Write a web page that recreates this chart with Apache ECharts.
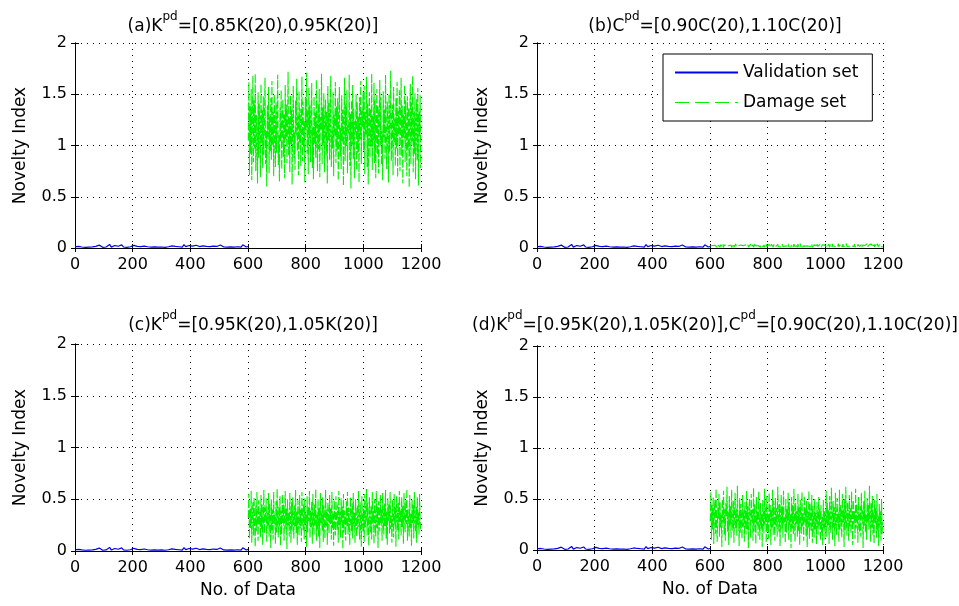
<!DOCTYPE html>
<html><head><meta charset="utf-8">
<script src="https://cdn.jsdelivr.net/npm/echarts@6/dist/echarts.min.js"></script>
<style>html,body{margin:0;padding:0;background:#fff}#c{width:959px;height:606px}</style>
</head><body><div id="c"></div>
<script>
// ---- data ----
const titles = [
  ['(a)K', 'pd', '=[0.85K(20),0.95K(20)]'],
  ['(b)C', 'pd', '=[0.90C(20),1.10C(20)]'],
  ['(c)K', 'pd', '=[0.95K(20),1.05K(20)]'],
  ['(d)K', 'pd', '=[0.95K(20),1.05K(20)],C', 'pd', '=[0.90C(20),1.10C(20)]']
];
const seriesNames = ['Validation set', 'Damage set'];
const xTicks = [0, 200, 400, 600, 800, 1000, 1200];
const yTicks = [0, 0.5, 1, 1.5, 2];
const validationStart = 0, validationStep = 6;
const damageStart = 601, damageStep = 2;

const validation = [
0.012,0.008,0.015,0.006,0.010,0.018,0.007,0.013,0.009,0.022,0.011,0.006,0.016,0.009,0.028,0.012,0.007,0.019,0.010,0.014,
0.035,0.009,0.013,0.024,0.008,0.017,0.011,0.030,0.010,0.015,0.007,0.021,0.012,0.009,0.026,0.011,0.016,0.008,0.013,0.010,
0.019,0.007,0.012,0.015,0.009,0.022,0.011,0.014,0.008,0.018,0.010,0.013,0.007,0.016,0.012,0.009,0.020,0.011,0.015,0.008,
0.012,0.017,0.009,0.033,0.013,0.010,0.024,0.012,0.018,0.009,0.027,0.011,0.014,0.008,0.021,0.012,0.016,0.010,0.013,0.009,
0.019,0.011,0.015,0.008,0.029,0.012,0.010,0.017,0.009,0.025,0.011,0.014,0.008,0.020,0.012,0.016,0.009,0.031,0.013,0.010,0.015
];
const damageA = [
1.05,1.62,0.71,1.38,0.92,1.55,0.66,1.21,1.68,0.84,1.44,0.97,1.70,0.75,1.30,1.12,0.63,1.52,0.88,1.41,
1.19,0.69,1.60,1.02,1.35,0.78,1.48,0.91,1.25,1.66,0.82,1.14,0.60,1.39,1.08,1.57,0.73,1.28,0.95,1.46,
0.86,1.63,1.00,1.33,0.70,1.50,1.17,0.79,1.42,0.93,1.26,1.69,0.81,1.10,0.65,1.37,1.04,1.54,0.77,1.22,
1.45,0.89,1.31,0.68,1.59,1.06,1.40,0.83,1.18,1.72,0.90,1.27,0.74,1.49,1.01,1.35,0.62,1.23,1.58,0.87,
1.13,0.76,1.44,1.09,1.65,0.94,1.29,0.71,1.53,1.03,1.36,0.80,1.20,1.67,0.85,1.43,0.98,1.24,0.64,1.47,
1.15,1.71,0.92,1.34,0.72,1.56,1.07,1.39,0.84,1.26,1.61,0.78,1.19,0.67,1.48,1.02,1.32,0.88,1.64,1.11,
0.75,1.41,0.96,1.55,0.69,1.28,1.16,1.70,0.82,1.37,1.00,1.51,0.74,1.21,1.45,0.91,1.33,0.63,1.58,1.05,
1.42,0.86,1.25,1.68,0.79,1.14,0.97,1.52,0.70,1.30,1.09,1.62,0.83,1.38,0.95,1.46,0.66,1.23,1.57,0.89,
1.17,0.77,1.49,1.04,1.35,0.61,1.27,1.66,0.85,1.40,0.99,1.54,0.73,1.20,1.12,1.69,0.80,1.31,0.58,1.44,
1.01,1.59,0.87,1.36,0.68,1.24,1.13,1.50,0.76,1.42,0.93,1.28,0.64,1.47,1.06,1.63,0.82,1.34,1.18,1.52,
0.95,1.58,0.72,1.33,1.10,1.67,0.79,1.41,0.62,1.24,1.52,0.88,1.36,0.99,1.70,0.76,1.29,1.05,1.61,0.83,
1.45,0.68,1.18,1.55,0.91,1.38,0.73,1.27,1.64,1.00,1.47,0.81,1.14,0.66,1.53,1.08,1.35,0.87,1.69,1.02,
0.77,1.43,1.21,0.64,1.50,0.94,1.31,1.73,0.85,1.19,1.40,0.71,1.57,1.03,1.26,0.80,1.46,0.97,1.62,0.69,
1.34,1.11,1.54,0.75,1.22,1.66,0.90,1.39,0.63,1.30,1.07,1.59,0.84,1.44,1.16,0.70,1.48,0.96,1.37,0.59,
1.25,1.60,0.82,1.42,1.04,1.68,0.74,1.32,0.92,1.51,0.67,1.20,1.45,0.86,1.56,0.61,1.33,1.09,1.49,0.78
];
const damageB = [
0.020,0.008,0.031,0.012,0.025,0.006,0.038,0.015,0.027,0.010,0.034,0.018,0.007,0.029,0.013,0.041,0.021,0.009,0.032,0.016,
0.024,0.011,0.036,0.007,0.028,0.019,0.043,0.012,0.026,0.008,0.033,0.017,0.022,0.010,0.039,0.014,0.030,0.006,0.025,0.018,
0.035,0.009,0.027,0.013,0.040,0.020,0.011,0.031,0.016,0.024,0.007,0.037,0.015,0.029,0.010,0.034,0.019,0.023,0.008,0.042,
0.014,0.030,0.012,0.026,0.018,0.036,0.009,0.028,0.021,0.013,0.039,0.011,0.025,0.017,0.032,0.008,0.027,0.015,0.044,0.020,
0.010,0.033,0.016,0.024,0.012,0.038,0.019,0.007,0.029,0.014,0.035,0.022,0.011,0.031,0.009,0.026,0.017,0.040,0.013,0.028,
0.021,0.008,0.034,0.015,0.027,0.011,0.037,0.018,0.024,0.010,0.032,0.016,0.043,0.012,0.029,0.020,0.009,0.035,0.014,0.025,
0.019,0.033,0.011,0.028,0.016,0.039,0.013,0.023,0.008,0.030,0.018,0.036,0.010,0.026,0.021,0.041,0.012,0.031,0.015,0.024,
0.009,0.034,0.017,0.027,0.013,0.038,0.020,0.011,0.032,0.016,0.025,0.008,0.037,0.014,0.029,0.019,0.042,0.012,0.026,0.018,
0.030,0.010,0.035,0.015,0.023,0.007,0.033,0.021,0.028,0.013,0.040,0.017,0.024,0.011,0.031,0.016,0.036,0.009,0.027,0.020,
0.014,0.032,0.018,0.025,0.010,0.038,0.015,0.029,0.022,0.012,0.034,0.017,0.026,0.008,0.031,0.019,0.039,0.013,0.028,0.021,
0.017,0.031,0.010,0.026,0.014,0.037,0.020,0.008,0.033,0.016,0.028,0.012,0.040,0.019,0.024,0.009,0.035,0.015,0.030,0.011,
0.027,0.018,0.042,0.013,0.029,0.007,0.034,0.021,0.025,0.010,0.038,0.016,0.031,0.012,0.026,0.019,0.044,0.014,0.028,0.009,
0.033,0.017,0.023,0.011,0.036,0.020,0.027,0.008,0.032,0.015,0.039,0.013,0.025,0.018,0.030,0.010,0.035,0.016,0.041,0.012,
0.026,0.021,0.034,0.009,0.029,0.014,0.037,0.019,0.024,0.011,0.031,0.017,0.043,0.013,0.027,0.008,0.033,0.020,0.028,0.015,
0.038,0.010,0.025,0.018,0.032,0.012,0.036,0.016,0.029,0.009,0.040,0.014,0.026,0.019,0.034,0.011,0.030,0.017,0.023,0.013
];
const damageC = [
0.32,0.55,0.12,0.41,0.22,0.58,0.08,0.36,0.47,0.15,0.52,0.27,0.04,0.44,0.19,0.57,0.30,0.10,0.49,0.25,
0.38,0.13,0.54,0.21,0.45,0.06,0.33,0.59,0.17,0.42,0.28,0.51,0.09,0.37,0.24,0.56,0.14,0.46,0.31,0.03,
0.50,0.20,0.40,0.11,0.57,0.26,0.35,0.07,0.48,0.18,0.60,0.29,0.13,0.43,0.23,0.53,0.05,0.39,0.16,0.55,
0.27,0.45,0.10,0.34,0.58,0.21,0.41,0.02,0.50,0.25,0.37,0.14,0.56,0.30,0.08,0.47,0.19,0.52,0.32,0.12,
0.44,0.24,0.59,0.17,0.38,0.06,0.49,0.28,0.15,0.54,0.22,0.40,0.09,0.57,0.33,0.20,0.46,0.11,0.51,0.26,
0.36,0.04,0.53,0.18,0.43,0.29,0.58,0.13,0.39,0.23,0.48,0.07,0.55,0.31,0.16,0.45,0.25,0.60,0.10,0.35,
0.21,0.50,0.14,0.42,0.03,0.56,0.27,0.37,0.19,0.52,0.09,0.44,0.30,0.12,0.59,0.24,0.40,0.06,0.47,0.34,
0.17,0.54,0.26,0.41,0.11,0.57,0.22,0.36,0.05,0.49,0.29,0.15,0.53,0.32,0.20,0.45,0.08,0.58,0.25,0.38,
0.13,0.51,0.28,0.43,0.02,0.55,0.18,0.39,0.31,0.10,0.48,0.23,0.57,0.16,0.42,0.27,0.06,0.52,0.34,0.19,
0.46,0.12,0.56,0.24,0.37,0.08,0.50,0.29,0.14,0.44,0.21,0.58,0.33,0.11,0.47,0.26,0.04,0.53,0.30,0.18,
0.41,0.09,0.55,0.23,0.36,0.60,0.15,0.47,0.28,0.05,0.52,0.33,0.18,0.44,0.11,0.57,0.26,0.39,0.07,0.50,
0.31,0.14,0.58,0.22,0.43,0.03,0.48,0.35,0.19,0.54,0.27,0.40,0.10,0.56,0.30,0.16,0.46,0.24,0.59,0.12,
0.38,0.06,0.51,0.29,0.45,0.17,0.57,0.21,0.34,0.08,0.49,0.32,0.13,0.55,0.25,0.42,0.04,0.53,0.37,0.20,
0.47,0.11,0.58,0.28,0.39,0.15,0.52,0.23,0.44,0.07,0.56,0.33,0.18,0.48,0.26,0.60,0.10,0.41,0.30,0.14,
0.54,0.22,0.36,0.05,0.50,0.27,0.45,0.12,0.57,0.31,0.19,0.43,0.08,0.52,0.25,0.38,0.16,0.55,0.29,0.21
];
const damageD = [
0.28,0.57,0.10,0.44,0.20,0.52,0.06,0.38,0.49,0.16,0.60,0.25,0.08,0.42,0.31,0.55,0.13,0.47,0.22,0.35,
0.03,0.50,0.27,0.58,0.15,0.40,0.09,0.46,0.33,0.62,0.18,0.37,0.05,0.53,0.24,0.43,0.12,0.59,0.29,0.19,
0.48,0.07,0.36,0.56,0.21,0.41,0.14,0.63,0.26,0.34,0.04,0.51,0.17,0.45,0.30,0.11,0.54,0.23,0.39,0.08,
0.47,0.32,0.15,0.58,0.20,0.43,0.02,0.37,0.50,0.26,0.12,0.55,0.28,0.40,0.09,0.61,0.18,0.45,0.33,0.06,
0.52,0.24,0.38,0.14,0.57,0.29,0.10,0.46,0.21,0.35,0.03,0.49,0.31,0.16,0.60,0.25,0.42,0.07,0.53,0.19,
0.36,0.11,0.56,0.27,0.44,0.05,0.39,0.22,0.59,0.15,0.48,0.30,0.09,0.51,0.23,0.41,0.13,0.62,0.34,0.18,
0.45,0.04,0.37,0.54,0.20,0.43,0.12,0.58,0.26,0.32,0.07,0.50,0.17,0.40,0.28,0.56,0.10,0.47,0.24,0.35,
0.02,0.52,0.21,0.44,0.15,0.60,0.31,0.08,0.46,0.25,0.38,0.13,0.55,0.19,0.42,0.05,0.49,0.29,0.16,0.57,
0.23,0.36,0.09,0.53,0.27,0.41,0.14,0.48,0.03,0.39,0.22,0.58,0.11,0.45,0.30,0.18,0.54,0.07,0.43,0.26,
0.12,0.50,0.20,0.37,0.06,0.47,0.28,0.15,0.52,0.24,0.40,0.09,0.44,0.17,0.33,0.05,0.49,0.21,0.38,0.10,
0.31,0.58,0.13,0.46,0.24,0.39,0.06,0.53,0.28,0.17,0.61,0.35,0.10,0.48,0.22,0.42,0.04,0.56,0.30,0.15,
0.51,0.26,0.37,0.08,0.59,0.20,0.44,0.33,0.12,0.55,0.27,0.40,0.03,0.50,0.19,0.62,0.29,0.14,0.47,0.36,
0.09,0.54,0.23,0.41,0.16,0.57,0.32,0.05,0.49,0.25,0.38,0.11,0.60,0.21,0.45,0.34,0.07,0.52,0.28,0.18,
0.43,0.13,0.56,0.30,0.39,0.02,0.48,0.24,0.58,0.17,0.35,0.10,0.51,0.27,0.44,0.20,0.63,0.32,0.08,0.46,
0.22,0.53,0.15,0.37,0.06,0.49,0.26,0.41,0.12,0.55,0.19,0.33,0.04,0.45,0.23,0.38,0.09,0.50,0.16,0.28
];
const damageSets = [damageA, damageB, damageC, damageD];

// ---- layout / style ----
const FONT = 'DejaVu Sans';
const grids = [
  {left: 75, top: 43, width: 346, height: 205},
  {left: 537, top: 43, width: 346, height: 205},
  {left: 75, top: 344, width: 346, height: 207},
  {left: 537, top: 346, width: 346, height: 204}
];
const titleTops = [6, 6, 305, 305];
const showXName = [false, false, true, true];

const toPairs = (arr, start, step) => arr.map((v, i) => [start + i * step, v]);
const richTitle = parts => parts.map((p, k) => (k % 2 ? '{s|' : '{n|') + p + '}').join('');

const xAxes = [], yAxes = [], series = [], titleArr = [];
grids.forEach((g, i) => {
  const common = {
    gridIndex: i, type: 'value',
    axisLine: {show: true, lineStyle: {color: '#000', width: 1}},
    axisTick: {show: true, inside: true, length: 4, lineStyle: {color: '#000'}},
  };
  xAxes.push(Object.assign({}, common, {
    position: 'bottom', min: xTicks[0], max: xTicks[xTicks.length - 1], interval: xTicks[1] - xTicks[0],
    axisLabel: {color: '#000', fontFamily: FONT, fontSize: 16, margin: 9, formatter: v => String(v)},
    splitLine: {show: true, lineStyle: {color: '#000', type: [1, 5], width: 1}},
    name: showXName[i] ? 'No. of Data' : '', nameLocation: 'middle', nameGap: 31,
    nameTextStyle: {color: '#000', fontFamily: FONT, fontSize: 17}
  }));
  yAxes.push(Object.assign({}, common, {
    position: 'left', min: yTicks[0], max: yTicks[yTicks.length - 1], interval: yTicks[1] - yTicks[0],
    axisLabel: {color: '#000', fontFamily: FONT, fontSize: 16, margin: 8, formatter: v => String(v)},
    splitLine: {show: true, lineStyle: {color: '#000', type: [1, 5], width: 1}},
    name: 'Novelty Index', nameLocation: 'middle', nameGap: 46,
    nameTextStyle: {color: '#000', fontFamily: FONT, fontSize: 17}
  }));
  titleArr.push({
    text: richTitle(titles[i]), left: g.left + g.width / 2, top: titleTops[i], textAlign: 'center',
    textStyle: {color: '#000', fontFamily: FONT, fontSize: 17, fontWeight: 'normal',
      rich: {
        n: {fontSize: 17, fontFamily: FONT, color: '#000', lineHeight: 24, verticalAlign: 'bottom'},
        s: {fontSize: 12, fontFamily: FONT, color: '#000', lineHeight: 14, verticalAlign: 'top'}
      }}
  });
});
grids.forEach((g, i) => {
  xAxes.push({gridIndex: i, type: 'value', position: 'top', min: xTicks[0], max: xTicks[xTicks.length - 1],
    interval: xTicks[1] - xTicks[0], axisLine: {show: true, lineStyle: {color: '#000'}},
    axisTick: {show: true, inside: true, length: 4, lineStyle: {color: '#000'}},
    axisLabel: {show: false}, splitLine: {show: false}});
  yAxes.push({gridIndex: i, type: 'value', position: 'right', min: yTicks[0], max: yTicks[yTicks.length - 1],
    interval: yTicks[1] - yTicks[0], axisLine: {show: true, lineStyle: {color: '#000'}},
    axisTick: {show: true, inside: true, length: 4, lineStyle: {color: '#000'}},
    axisLabel: {show: false}, splitLine: {show: false}});
});
grids.forEach((g, i) => {
  series.push({
    name: seriesNames[0], type: 'line', xAxisIndex: i, yAxisIndex: i, symbol: 'none', z: 3,
    lineStyle: {color: '#0000ee', width: 1.2}, itemStyle: {color: '#0000ee'},
    data: toPairs(validation, validationStart, validationStep)
  });
  series.push({
    name: seriesNames[1], type: 'line', xAxisIndex: i, yAxisIndex: i, symbol: 'none', z: 2,
    lineStyle: {color: '#00f000', width: 1.1, type: [8, 2]}, itemStyle: {color: '#00f000'},
    data: toPairs(damageSets[i], damageStart, damageStep)
  });
});

const chart = echarts.init(document.getElementById('c'), null, {renderer: 'canvas'});
chart.setOption({
  animation: false,
  backgroundColor: '#fff',
  title: titleArr,
  grid: grids.map(g => Object.assign({containLabel: false}, g)),
  xAxis: xAxes,
  yAxis: yAxes,
  legend: {
    data: [
      {name: seriesNames[0]},
      {name: seriesNames[1], lineStyle: {type: [14, 6], width: 1}}
    ],
    orient: 'vertical', left: 663, top: 54,
    itemWidth: 63, itemHeight: 14, itemGap: 13,
    padding: [10, 14, 10, 11],
    itemStyle: {opacity: 0},
    lineStyle: {inherit: true},
    backgroundColor: '#fff', borderColor: '#000', borderWidth: 1, borderRadius: 0,
    textStyle: {color: '#000', fontFamily: FONT, fontSize: 17},
    selectedMode: false
  },
  series: series
});
</script></body></html>
